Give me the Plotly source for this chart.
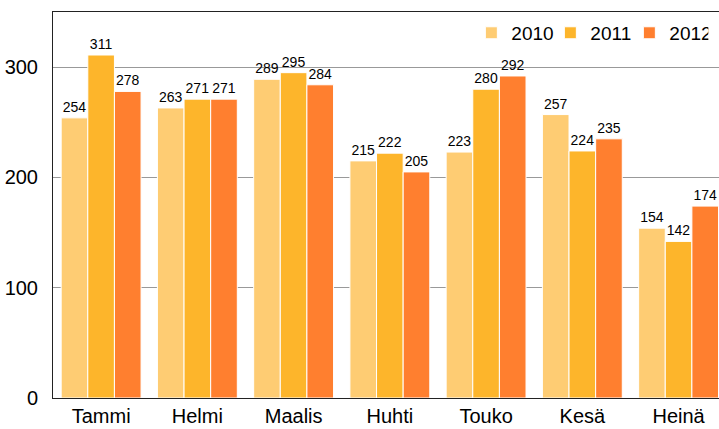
import plotly.graph_objects as go

months = ["Tammi", "Helmi", "Maalis", "Huhti", "Touko", "Kesä", "Heinä"]
v2010 = [254, 263, 289, 215, 223, 257, 154]
v2011 = [311, 271, 295, 222, 280, 224, 142]
v2012 = [278, 271, 284, 205, 292, 235, 174]
series = [("2010", v2010, "#FECC73"), ("2011", v2011, "#FDB52B"), ("2012", v2012, "#FF7F2F")]
yticks = [0, 100, 200, 300]

FONT = "Liberation Sans, Arial, sans-serif"

fig = go.Figure()
for name, vals, col in series:
    fig.add_trace(go.Bar(
        x=months, y=vals, name=name,
        marker=dict(color=col, line=dict(color="white", width=1)),
        text=[str(v) for v in vals], textposition="outside",
        textfont=dict(family=FONT, size=14, color="black"),
        cliponaxis=True,
    ))

fig.update_layout(
    width=719, height=429,
    margin=dict(l=53, r=0, t=12, b=31),
    paper_bgcolor="white", plot_bgcolor="white",
    barmode="group", bargap=0.17, bargroupgap=0,
    font=dict(family=FONT, size=20, color="black"),
    showlegend=True,
    legend=dict(orientation="h", x=0.984, xanchor="right", y=0.995, yanchor="top",
                font=dict(family=FONT, size=19), bgcolor="rgba(0,0,0,0)",
                itemwidth=30, tracegroupgap=0,
                entrywidth=34, entrywidthmode="pixels"),
    xaxis=dict(range=[-0.5, 6.42], showline=True, linecolor="#222", linewidth=1,
               mirror=True, ticks="", showgrid=False,
               tickfont=dict(family=FONT, size=20)),
    yaxis=dict(range=[0, 350], tickvals=yticks, showline=True, linecolor="#222", linewidth=1,
               showgrid=True, gridcolor="#999", gridwidth=1, zeroline=False, ticks="",
               ticklabelstandoff=10,
               tickfont=dict(family=FONT, size=20)),
    uniformtext=dict(minsize=14, mode="show"),
)

fig.write_html("out.html", config={"displayModeBar": False},
               post_script="document.body.style.margin='0';")
